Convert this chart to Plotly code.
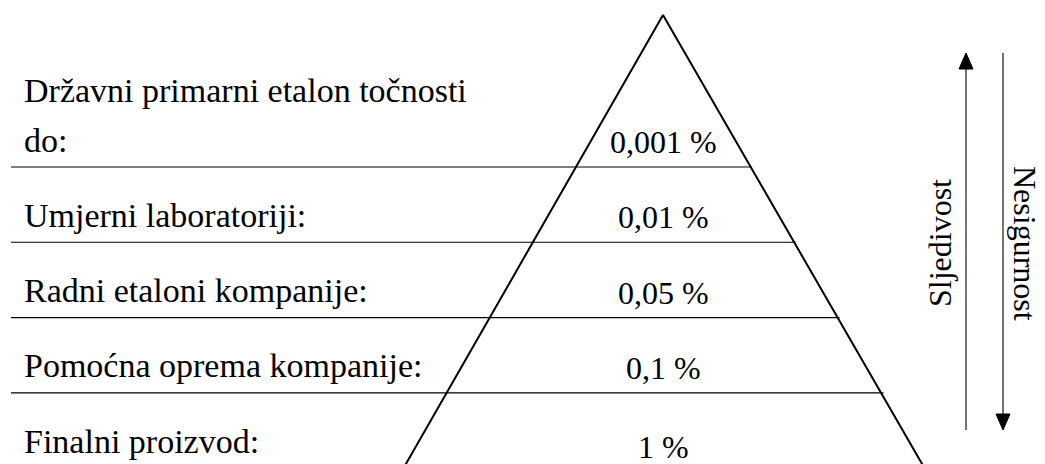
import plotly.graph_objects as go

# ---- data ----
levels = [
    "Državni primarni etalon točnosti<br>do:",
    "Umjerni laboratoriji:",
    "Radni etaloni kompanije:",
    "Pomoćna oprema kompanije:",
    "Finalni proizvod:",
]
accuracy = ["0,001 %", "0,01 %", "0,05 %", "0,1 %", "1 %"]
up_label = "Sljedivost"
down_label = "Nesigurnost"

# ---- layout geometry (pixel-like data units) ----
W, H = 1045, 464
PAGE_OFF = 8          # default page body margin
FONT = "Liberation Serif"
FS_LAB = 34
FS_VAL = 32
apex = (663, 15)
base_y = 464
base_left, base_right = 403, 925
line_x0 = 11
first_sep = 167
row_h = 75.3
label_x = 22

def right_edge(y):
    return apex[0] + (y - apex[1]) * (base_right - apex[0]) / (base_y - apex[1])

fig = go.Figure()

# triangle
fig.add_trace(go.Scatter(x=[base_left, apex[0], base_right], y=[base_y + 5, apex[1], base_y + 5],
                         mode="lines", line=dict(color="black", width=2), hoverinfo="skip",
                         cliponaxis=True))

# separators
for i in range(len(levels) - 1):
    y = first_sep + i * row_h
    fig.add_trace(go.Scatter(x=[line_x0, right_edge(y)], y=[y, y], mode="lines",
                             line=dict(color="black", width=1.1), hoverinfo="skip"))

annotations = []
for i, (lab, acc) in enumerate(zip(levels, accuracy)):
    base = first_sep + (i - 1) * row_h + row_h - 17  # baseline of bottom line of row
    parts = lab.split("<br>")
    for j, p in enumerate(reversed(parts)):
        annotations.append(dict(x=label_x, y=base - 10 - j * 50, text=p, xanchor="left",
                                yanchor="middle", showarrow=False,
                                font=dict(family=FONT, size=FS_LAB, color="black")))
    vbase = base + 2 + (4 if i == len(levels) - 1 else 0)
    annotations.append(dict(x=apex[0], y=vbase - 10, text=acc, xanchor="center",
                            yanchor="middle", showarrow=False,
                            font=dict(family=FONT, size=FS_VAL, color="black")))

# arrows
ax_up, ax_down = 966, 1003
a_top, a_bot = 53, 430
head_len, head_half = 16, 7
fig.add_trace(go.Scatter(x=[ax_up, ax_up], y=[a_bot, a_top + head_len], mode="lines",
                         line=dict(color="black", width=1.1), hoverinfo="skip"))
fig.add_trace(go.Scatter(x=[ax_up - head_half, ax_up, ax_up + head_half, ax_up - head_half],
                         y=[a_top + head_len, a_top, a_top + head_len, a_top + head_len],
                         mode="lines", fill="toself", fillcolor="black",
                         line=dict(color="black", width=1), hoverinfo="skip"))
fig.add_trace(go.Scatter(x=[ax_down, ax_down], y=[a_top, a_bot - head_len], mode="lines",
                         line=dict(color="black", width=1.1), hoverinfo="skip"))
fig.add_trace(go.Scatter(x=[ax_down - head_half, ax_down, ax_down + head_half, ax_down - head_half],
                         y=[a_bot - head_len, a_bot, a_bot - head_len, a_bot - head_len],
                         mode="lines", fill="toself", fillcolor="black",
                         line=dict(color="black", width=1), hoverinfo="skip"))

annotations.append(dict(x=940, y=243, text=up_label, textangle=-90, showarrow=False,
                        xanchor="center", yanchor="middle",
                        font=dict(family=FONT, size=FS_VAL, color="black")))
annotations.append(dict(x=1025, y=243, text=down_label, textangle=90, showarrow=False,
                        xanchor="center", yanchor="middle",
                        font=dict(family=FONT, size=FS_VAL, color="black")))

fig.update_layout(
    width=W - PAGE_OFF, height=H - PAGE_OFF, margin=dict(l=0, r=0, t=0, b=0),
    paper_bgcolor="white", plot_bgcolor="white", showlegend=False,
    xaxis=dict(range=[PAGE_OFF, W], visible=False, fixedrange=True),
    yaxis=dict(range=[H, PAGE_OFF], visible=False, fixedrange=True),
    annotations=annotations,
)
fig.write_html("out.html")
